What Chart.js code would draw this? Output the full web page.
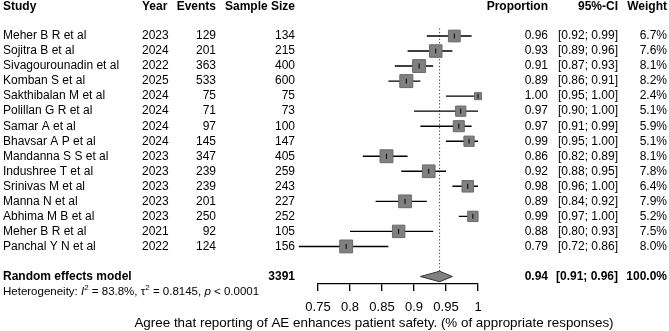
<!DOCTYPE html>
<html>
<head>
<meta charset="utf-8">
<script src="https://cdn.jsdelivr.net/npm/chart.js@4.4.1/dist/chart.umd.min.js"></script>
<style>
  html, body { margin: 0; padding: 0; background: #fff; }
  #wrap { width: 669px; height: 331px; }
</style>
</head>
<body>
<div id="wrap"><canvas id="forest" width="669" height="331"></canvas></div>
<script>
// study table
const study = ["Meher B R et al", "Sojitra B et al", "Sivagourounadin et al", "Komban S et al",
  "Sakthibalan M et al", "Polillan G R et al", "Samar A et al", "Bhavsar A P et al",
  "Mandanna S S et al", "Indushree T et al", "Srinivas M et al", "Manna N et al",
  "Abhima M B et al", "Meher B R et al", "Panchal Y N et al"];
const year = [2023, 2024, 2022, 2025, 2024, 2024, 2024, 2024, 2023, 2023, 2023, 2023, 2023, 2021, 2022];
const events = [129, 201, 363, 533, 75, 71, 97, 145, 347, 239, 239, 201, 250, 92, 124];
const sampleSize = [134, 215, 400, 600, 75, 73, 100, 147, 405, 259, 243, 227, 252, 105, 156];
const proportion = [0.963, 0.934, 0.908, 0.888, 1.000, 0.973, 0.970, 0.986, 0.857, 0.923, 0.984, 0.886, 0.992, 0.876, 0.794];
const ciLower = [0.92, 0.89, 0.87, 0.86, 0.95, 0.90, 0.91, 0.95, 0.82, 0.88, 0.96, 0.84, 0.97, 0.80, 0.72];
const ciUpper = [0.99, 0.96, 0.93, 0.91, 1.00, 1.00, 0.99, 1.00, 0.89, 0.95, 1.00, 0.92, 1.00, 0.93, 0.86];
const weight = [6.7, 7.6, 8.1, 8.2, 2.4, 5.1, 5.9, 5.1, 8.1, 7.8, 6.4, 7.9, 5.2, 7.5, 8.0];

// pooled (random effects)
const pooledEst = 0.94;
const pooledLower = 0.91;
const pooledUpper = 0.96;
const totalSize = 3391;

const xTicks = [0.75, 0.8, 0.85, 0.9, 0.95, 1];

const FONT = '"Liberation Sans", Arial, Helvetica, sans-serif';
const pooledRow = study.length + 1;

// CI segments, broken by null points
const ciData = [];
study.forEach((s, i) => {
  ciData.push({x: ciLower[i], y: i}, {x: ciUpper[i], y: i}, {x: null, y: null});
});
const boxData = study.map((s, i) => ({x: proportion[i], y: i}));
// square side ~ sqrt(weight); 'rect' side = radius * sqrt(2)
const boxRadius = weight.map(w => 13 * Math.sqrt(w / 8.2) / Math.SQRT2);

const tablePlugin = {
  id: 'forestTable',
  afterDraw(chart) {
    const ctx = chart.ctx;
    const yS = chart.scales.y;
    const reg = '12px ' + FONT;
    const bold = 'bold 12px ' + FONT;
    ctx.save();
    ctx.fillStyle = '#000';
    ctx.textBaseline = 'middle';
    function txt(s, x, y, align, font) {
      ctx.font = font || reg;
      ctx.textAlign = align || 'left';
      ctx.fillText(s, x, y);
    }
    // headers
    const hy = 7;
    txt('Study', 3, hy, 'left', bold);
    txt('Year', 142, hy, 'left', bold);
    txt('Events', 216, hy, 'right', bold);
    txt('Sample Size', 295, hy, 'right', bold);
    txt('Proportion', 548, hy, 'right', bold);
    txt('95%-CI', 618, hy, 'right', bold);
    txt('Weight', 667, hy, 'right', bold);

    study.forEach((s, i) => {
      const y = yS.getPixelForValue(i);
      txt(s, 3, y);
      txt(String(year[i]), 142, y);
      txt(String(events[i]), 216, y, 'right');
      txt(String(sampleSize[i]), 295, y, 'right');
      txt(proportion[i].toFixed(2), 548, y, 'right');
      txt('[' + ciLower[i].toFixed(2) + '; ' + ciUpper[i].toFixed(2) + ']', 618, y, 'right');
      txt(weight[i].toFixed(1) + '%', 667, y, 'right');
    });

    const py = yS.getPixelForValue(pooledRow);
    txt('Random effects model', 3, py, 'left', bold);
    txt(String(totalSize), 295, py, 'right', bold);
    txt(pooledEst.toFixed(2), 548, py, 'right', bold);
    txt('[' + pooledLower.toFixed(2) + '; ' + pooledUpper.toFixed(2) + ']', 618, py, 'right', bold);
    txt('100.0%', 667, py, 'right', bold);

    // heterogeneity line
    const hy2 = yS.getPixelForValue(pooledRow + 1);
    const parts = [
      ['Heterogeneity: ', '11.5px ' + FONT, 0],
      ['I', 'italic 11.5px ' + FONT, 0],
      ['2', '8px ' + FONT, -4],
      [' = 83.8%, ', '11.5px ' + FONT, 0],
      ['\u03c4', '11.5px ' + FONT, 0],
      ['2', '8px ' + FONT, -4],
      [' = 0.8145, ', '11.5px ' + FONT, 0],
      ['p', 'italic 11.5px ' + FONT, 0],
      [' < 0.0001', '11.5px ' + FONT, 0]
    ];
    let hx = 3;
    parts.forEach(([s, f, dy]) => {
      ctx.font = f;
      ctx.textAlign = 'left';
      ctx.fillText(s, hx, hy2 + dy);
      hx += ctx.measureText(s).width;
    });

    // x axis label
    txt('Agree that reporting of AE enhances patient safety. (% of appropriate responses)', 374, 323, 'center', '13.4px ' + FONT);
    ctx.restore();
  }
};

new Chart(document.getElementById('forest'), {
  type: 'scatter',
  data: {
    datasets: [
      {
        // centre tick of each study
        data: boxData,
        pointStyle: 'line',
        rotation: 90,
        pointRadius: 2.5,
        borderColor: '#000',
        borderWidth: 1,
        clip: false,
        order: 0
      },
      {
        data: boxData,
        pointStyle: 'rect',
        pointRadius: boxRadius,
        backgroundColor: '#808080',
        borderColor: '#6a6a6a',
        borderWidth: 1,
        clip: false,
        order: 1
      },
      {
        data: ciData,
        showLine: true,
        pointRadius: 0,
        borderColor: '#000',
        borderWidth: 1.4,
        spanGaps: false,
        clip: false,
        order: 2
      },
      {
        // pooled diamond
        data: [
          {x: pooledLower, y: pooledRow},
          {x: pooledEst, y: pooledRow - 0.35},
          {x: pooledUpper, y: pooledRow},
          {x: pooledEst, y: pooledRow + 0.35},
          {x: pooledLower, y: pooledRow}
        ],
        showLine: true,
        fill: 'shape',
        pointRadius: 0,
        backgroundColor: '#808080',
        borderColor: '#333',
        borderWidth: 1,
        clip: false,
        order: 3
      },
      {
        // dotted line at pooled estimate
        data: [{x: pooledEst, y: -0.5}, {x: pooledEst, y: pooledRow - 0.35}],
        showLine: true,
        pointRadius: 0,
        borderColor: '#333',
        borderWidth: 1,
        borderDash: [1.2, 2.2],
        clip: false,
        order: 4
      }
    ]
  },
  options: {
    responsive: false,
    animation: false,
    events: [],
    layout: { padding: { left: 318, right: 191, top: 28.5, bottom: 18 } },
    plugins: {
      legend: { display: false },
      tooltip: { enabled: false }
    },
    scales: {
      x: {
        type: 'linear',
        min: xTicks[0],
        max: xTicks[xTicks.length - 1],
        afterBuildTicks(scale) {
          scale.ticks = xTicks.map(v => ({value: v}));
        },
        afterFit(scale) { scale.height = 29; },
        ticks: {
          color: '#000',
          padding: 9,
          font: { size: 13, family: FONT },
          callback: v => String(v)
        },
        grid: {
          display: true,
          drawOnChartArea: false,
          drawTicks: true,
          tickLength: 7,
          color: '#000',
          lineWidth: 1.3
        },
        border: { display: true, color: '#000', width: 1.3 }
      },
      y: {
        type: 'linear',
        reverse: true,
        min: -0.5,
        max: pooledRow + 0.5,
        display: false
      }
    }
  },
  plugins: [tablePlugin]
});
</script>
</body>
</html>
